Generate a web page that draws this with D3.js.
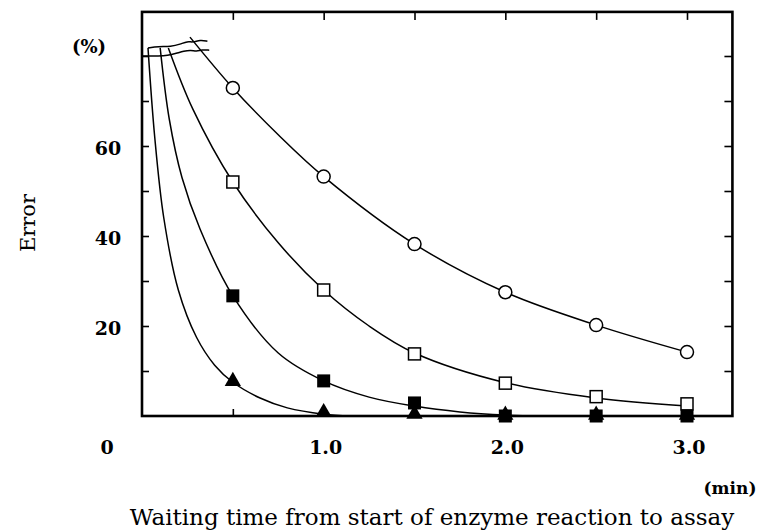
<!DOCTYPE html>
<meta charset="utf-8">
<title>Error vs waiting time</title>
<body style="margin:0;background:#fff">
<script src="https://cdn.jsdelivr.net/npm/d3@7"></script>
<script>
    // measured points: waiting time (min) and error (%)
    var times = [0.5, 1.0, 1.5, 2.0, 2.5, 3.0];
    var circleVals = [72.9, 53.2, 38.2, 27.5, 20.2, 14.2];
    var openSqVals = [52.0, 28.0, 13.8, 7.3, 4.3, 2.7];
    var filledSqVals = [26.7, 7.8, 2.9, 0, 0, 0];
    var triangleVals = [7.5, 0.6, 0.2, 0, 0, 0];

    // fitted curves as drawn, [min, %]
    var circleCurve = [[0.264, 84.2], [0.5, 72.9], [0.75, 62.5], [1.0, 53.2], [1.5, 38.2], [2.0, 27.5], [2.5, 20.2], [3.0, 14.2]];
    var openSqCurve = [[0.145, 81.8], [0.28, 68.2], [0.5, 52], [0.75, 38.5], [1.0, 28], [1.25, 20], [1.5, 14], [2.0, 7.4], [2.5, 4], [3.0, 2.2]];
    var filledSqCurve = [[0.1, 81.8], [0.15, 66], [0.22, 53], [0.32, 41.5], [0.5, 26.7], [0.75, 14], [1.0, 7.8], [1.25, 4.2], [1.5, 2.2], [1.75, 0.9], [2.0, 0.2], [2.2, 0]];
    var triangleCurve = [[0.033, 81.8], [0.07, 62], [0.12, 44], [0.2, 28], [0.3, 17.5], [0.4, 11.3], [0.5, 7.5], [0.65, 4], [0.8, 1.8], [1.0, 0.4], [1.15, 0]];

    // axis break (double wavy line near the top)
    var lowerBreak = [[0.0, 80], [0.03, 80], [0.09, 80], [0.14, 80.1], [0.19, 80.6], [0.23, 81.1], [0.27, 81.3], [0.3, 81.0], [0.33, 81.4], [0.37, 81.3]];
    var upperBreak = [[0.033, 81.8], [0.09, 82.1], [0.16, 82.1], [0.21, 82.6], [0.25, 83.3], [0.28, 83.0], [0.32, 83.6], [0.36, 83.3]];

    var xTicks = [0.5, 1.0, 1.5, 2.0, 2.5, 3.0];
    var xLabels = [1.0, 2.0, 3.0];
    var yTicks = [10, 20, 30, 40, 50, 60, 70, 80];
    var yLabels = [20, 40, 60];

    var width = 759,
        height = 531;

    var x = d3.scaleLinear().domain([0, 3]).range([142, 687]);
    var y = d3.scaleLinear().domain([0, 80]).range([416, 56]);
    var xMax = 3.25, yMax = 89.8;

    var svg = d3.select("body").append("svg")
        .attr("width", width)
        .attr("height", height)
        .style("font-family", "'DejaVu Serif', serif");

    // inward ticks on all four sides
    svg.append("g")
        .attr("transform", "translate(0," + y(0) + ")")
        .call(d3.axisBottom(x).tickValues(xTicks).tickSize(-7).tickFormat(""));
    svg.append("g")
        .attr("transform", "translate(0," + y(yMax) + ")")
        .call(d3.axisTop(x).tickValues(xTicks).tickSize(-8).tickFormat(""));
    svg.append("g")
        .attr("transform", "translate(" + x(0) + ",0)")
        .call(d3.axisLeft(y).tickValues(yTicks).tickSize(-7).tickFormat(""));
    svg.append("g")
        .attr("transform", "translate(" + x(xMax) + ",0)")
        .call(d3.axisRight(y).tickValues(yTicks).tickSize(-8).tickFormat(""));
    svg.selectAll(".domain").remove();
    svg.selectAll(".tick line").attr("stroke", "#000").attr("stroke-width", 1.6);

    var line = d3.line()
        .x(d => x(d[0]))
        .y(d => y(d[1]))
        .curve(d3.curveCatmullRom.alpha(0.5));

    var breakLine = d3.line()
        .x(d => x(d[0]))
        .y(d => y(d[1]))
        .curve(d3.curveBasis);

    [circleCurve, openSqCurve, filledSqCurve, triangleCurve].forEach(function(c) {
        svg.append("path")
            .datum(c)
            .attr("d", line)
            .attr("fill", "none")
            .attr("stroke", "#000")
            .attr("stroke-width", 1.5);
    });

    [lowerBreak, upperBreak].forEach(function(c) {
        svg.append("path")
            .datum(c)
            .attr("d", breakLine)
            .attr("fill", "none")
            .attr("stroke", "#000")
            .attr("stroke-width", 1.5);
    });

    // frame
    svg.append("rect")
        .attr("x", x(0))
        .attr("y", y(yMax))
        .attr("width", x(xMax) - x(0))
        .attr("height", y(0) - y(yMax))
        .attr("fill", "none")
        .attr("stroke", "#000")
        .attr("stroke-width", 2.6);

    // markers
    var tri = d3.symbol().type(d3.symbolTriangle).size(115);

    svg.append("g").selectAll("path")
        .data(times.map((t, i) => [t, triangleVals[i]]))
        .join("path")
        .attr("transform", d => "translate(" + x(d[0]) + "," + (y(d[1]) - 1) + ")")
        .attr("d", tri)
        .attr("fill", "#000");

    svg.append("g").selectAll("rect")
        .data(times.map((t, i) => [t, filledSqVals[i]]))
        .join("rect")
        .attr("x", d => x(d[0]) - 6.5)
        .attr("y", d => y(d[1]) - 6.5)
        .attr("width", 13)
        .attr("height", 13)
        .attr("fill", "#000");

    svg.append("g").selectAll("rect")
        .data(times.map((t, i) => [t, openSqVals[i]]))
        .join("rect")
        .attr("x", d => x(d[0]) - 6)
        .attr("y", d => y(d[1]) - 6)
        .attr("width", 12)
        .attr("height", 12)
        .attr("fill", "#fff")
        .attr("stroke", "#000")
        .attr("stroke-width", 1.5);

    svg.append("g").selectAll("circle")
        .data(times.map((t, i) => [t, circleVals[i]]))
        .join("circle")
        .attr("cx", d => x(d[0]))
        .attr("cy", d => y(d[1]))
        .attr("r", 6.5)
        .attr("fill", "#fff")
        .attr("stroke", "#000")
        .attr("stroke-width", 1.5);

    // tick labels
    svg.append("g").selectAll("text")
        .data(xLabels)
        .join("text")
        .attr("x", d => x(d) + 2)
        .attr("y", 454)
        .attr("text-anchor", "middle")
        .style("font-weight", "bold")
        .style("font-size", "19px")
        .text(d => d.toFixed(1));

    svg.append("g").selectAll("text")
        .data(yLabels)
        .join("text")
        .attr("x", 108)
        .attr("y", d => y(d) + 9)
        .attr("text-anchor", "middle")
        .style("font-weight", "bold")
        .style("font-size", "19px")
        .text(d => d);

    svg.append("text")
        .attr("x", 107)
        .attr("y", 454)
        .attr("text-anchor", "middle")
        .style("font-weight", "bold")
        .style("font-size", "19px")
        .text("0");

    svg.append("text")
        .attr("x", 89)
        .attr("y", 53)
        .attr("text-anchor", "middle")
        .style("font-weight", "bold")
        .style("font-size", "18px")
        .text("(%)");

    svg.append("text")
        .attr("x", 730)
        .attr("y", 494)
        .attr("text-anchor", "middle")
        .style("font-weight", "bold")
        .style("font-size", "17px")
        .text("(min)");

    svg.append("text")
        .attr("transform", "translate(35,223) rotate(-90)")
        .attr("text-anchor", "middle")
        .style("font-size", "21px")
        .text("Error");

    svg.append("text")
        .attr("x", 432)
        .attr("y", 525)
        .attr("text-anchor", "middle")
        .style("font-size", "23px")
        .text("Waiting time from start of enzyme reaction to assay");
</script>
</body>
